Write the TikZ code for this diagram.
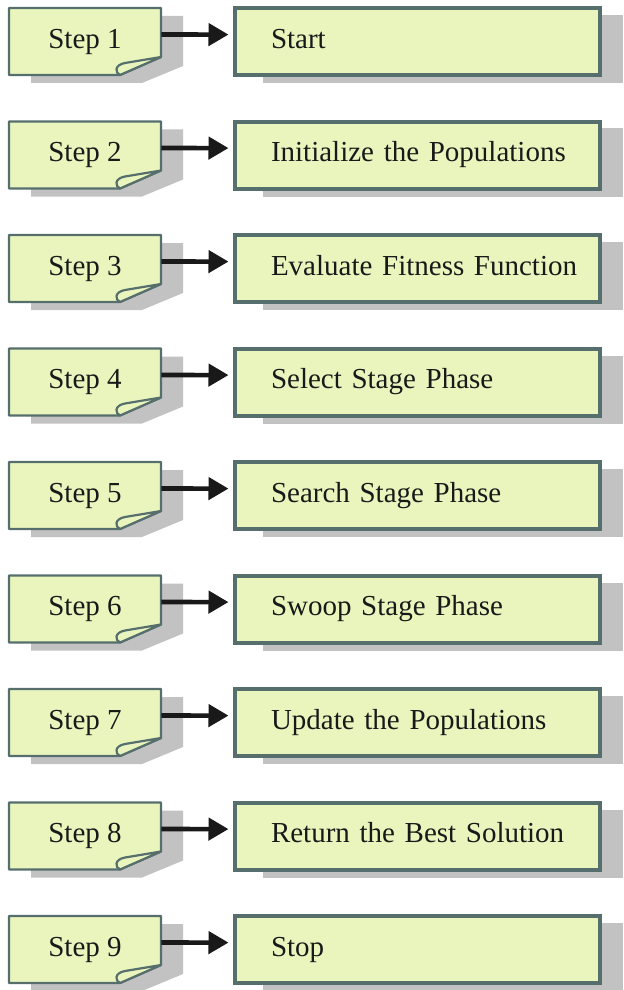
\documentclass[tikz,border=0pt]{standalone}
\usepackage{fontspec}
\setmainfont{Liberation Serif}
\usetikzlibrary{arrows.meta,positioning}
\definecolor{notefill}{RGB}{234,245,190}
\definecolor{noteline}{RGB}{86,110,108}
\definecolor{noteshade}{RGB}{194,194,194}

\begin{document}
\begin{tikzpicture}[x=0.5pt,y=-0.5pt,
    steplabel/.style={minimum width=76pt,minimum height=33.5pt,inner sep=0pt,
      font=\fontsize{14.5}{17}\selectfont,text=black!90,text height=0.66em,text depth=0pt},
    taskbox/.style={draw=noteline,line width=2pt,fill=notefill,minimum height=33.5pt,
      text width=146pt,inner xsep=18.25pt,inner ysep=0pt,align=left,
      font=\fontsize{14.5}{17}\selectfont,text=black!90,text height=0.66em,text depth=0pt},
    page/.style={fill=notefill,draw=noteline,line width=1.1pt,line join=round},
    shade/.style={fill=noteshade},
    flow/.style={-{Triangle[length=10pt,width=11pt]},line width=2.3pt,black!90,shorten >=2pt}]
  \useasboundingbox (0,0) rectangle (624,990);
  \foreach \i/\task in {1/Start,2/Initialize the Populations,3/Evaluate Fitness Function,
      4/Select Stage Phase,5/Search Stage Phase,6/Swoop Stage Phase,
      7/Update the Populations,8/Return the Best Solution,9/Stop}{
    \begin{scope}[shift={(0,{113.5*(\i-1)})}]
      % shadows
      \fill[shade] (31,16) -- (183,16) -- (183,66) -- (142,83) -- (31,83) -- cycle;
      \fill[shade] (263,15) rectangle (623,83);
      % note with curled corner
      \draw[page] (9,8) -- (161,8) -- (161,57) -- (120,75) -- (9,75) -- cycle;
      \draw[page] (161,57) -- (125,63) .. controls (114,65) and (115,73) .. (120,75) -- cycle;
      \node[steplabel] (step\i) at (85,41.5) {Step \i};
      \node[taskbox] (task\i) at (417,41.6) {\mbox{\task}};
      \draw[flow] ([yshift=3.5pt]step\i.east) -- ([yshift=3.5pt]task\i.west);
    \end{scope}
  }
\end{tikzpicture}
\end{document}
